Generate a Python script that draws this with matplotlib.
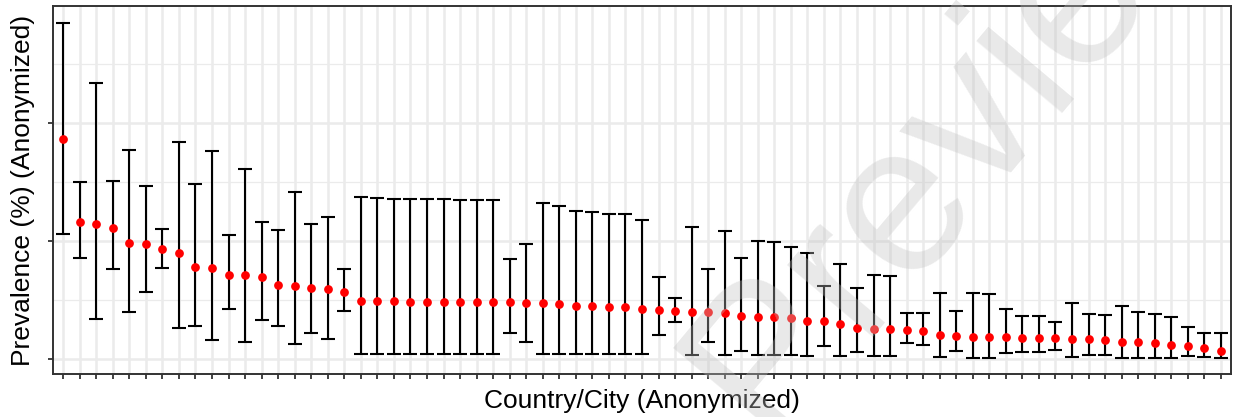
import numpy as np
import matplotlib.pyplot as plt

# estimated prevalence (%) per site, sorted, with 95% CI bounds
prevalence = [18.61, 11.57, 11.42, 11.06, 9.79, 9.70, 9.28, 8.99, 7.76, 7.72,
              7.08, 7.08, 6.91, 6.26, 6.18, 6.01, 5.90, 5.69, 4.91, 4.91,
              4.91, 4.85, 4.85, 4.85, 4.85, 4.85, 4.85, 4.80, 4.74, 4.71,
              4.65, 4.51, 4.48, 4.42, 4.37, 4.23, 4.15, 4.04, 4.00, 3.98,
              3.89, 3.64, 3.58, 3.53, 3.44, 3.24, 3.21, 2.94, 2.60, 2.54,
              2.51, 2.45, 2.37, 2.03, 1.95, 1.89, 1.89, 1.84, 1.75, 1.75,
              1.75, 1.69, 1.67, 1.61, 1.46, 1.41, 1.33, 1.18, 1.10, 0.91, 0.70]
upper = [28.45, 15.00, 23.32, 15.08, 17.68, 14.64, 10.97, 18.36, 14.81, 17.62,
         10.49, 16.10, 11.59, 10.91, 14.10, 11.42, 12.04, 7.59, 13.73, 13.62,
         13.56, 13.54, 13.54, 13.54, 13.45, 13.45, 13.45, 8.49, 9.73, 13.17,
         12.97, 12.52, 12.46, 12.29, 12.29, 11.79, 6.96, 5.14, 11.19, 7.64,
         10.85, 8.57, 10.01, 9.90, 9.45, 8.94, 6.20, 8.04, 6.03, 7.08,
         7.00, 3.92, 3.92, 5.61, 4.06, 5.61, 5.50, 4.20, 3.66, 3.66,
         3.13, 4.71, 3.81, 3.72, 4.48, 3.95, 3.81, 3.53, 2.68, 2.17, 2.17]
lower = [10.55, 8.52, 3.36, 7.64, 4.00, 5.64, 7.70, 2.62, 2.79, 1.58,
         4.23, 1.46, 3.30, 2.82, 1.27, 2.17, 1.72, 4.09, 0.42, 0.42,
         0.42, 0.42, 0.42, 0.42, 0.42, 0.42, 0.42, 2.17, 1.41, 0.42,
         0.42, 0.42, 0.42, 0.42, 0.42, 0.42, 2.03, 3.13, 0.34, 1.44,
         0.31, 0.70, 0.31, 0.31, 0.31, 0.25, 1.13, 0.25, 0.62, 0.25,
         0.25, 1.33, 1.16, 0.19, 0.65, 0.11, 0.11, 0.48, 0.57, 0.57,
         0.76, 0.14, 0.34, 0.34, 0.11, 0.11, 0.11, 0.06, 0.25, 0.19, 0.06]

prev = np.array(prevalence)
lo = np.array(lower)
hi = np.array(upper)
x = np.arange(1, len(prev) + 1)

plt.rcParams['font.family'] = ['Liberation Sans', 'DejaVu Sans']

fig = plt.figure(figsize=(12.33, 4.17), dpi=100)
ax = fig.add_axes([0.0432, 0.103, 0.955, 0.883])

# ggplot theme_bw look
ax.set_facecolor('white')
ax.set_yticks([0, 10, 20])
ax.set_yticks([5, 15, 25], minor=True)
ax.set_xticks(x)
ax.set_xticklabels([])
ax.set_yticklabels([])
ax.grid(which='major', color='#EBEBEB', linewidth=1.8, zorder=0)
ax.grid(which='minor', axis='y', color='#EBEBEB', linewidth=0.9, zorder=0)
ax.set_axisbelow(True)
ax.tick_params(which='major', length=3.6, width=1.3, color='#333333')
ax.tick_params(which='minor', length=0)
for s in ax.spines.values():
    s.set_color('#333333')
    s.set_linewidth(1.4)

ax.errorbar(x, prev, yerr=[prev - lo, hi - prev], fmt='none', ecolor='black',
            elinewidth=1.5, capsize=5.3, capthick=1.5, zorder=2)
ax.plot(x, prev, 'o', color='red', markersize=6.3, markeredgewidth=0, zorder=3)

ax.set_xlim(0.4, len(prev) + 0.6)
ax.set_ylim(-1.27, 29.89)

ax.set_xlabel('Country/City (Anonymized)', fontsize=19, labelpad=4)
ax.set_ylabel('Prevalence (%) (Anonymized)', fontsize=19, labelpad=6)

# watermark
fig.text(0.785, 0.715, 'Preview', fontsize=152, rotation=50, color=(0.76, 0.76, 0.76),
         alpha=0.36, ha='center', va='center', rotation_mode='anchor', zorder=10)

fig.savefig('out.png', dpi=100)
